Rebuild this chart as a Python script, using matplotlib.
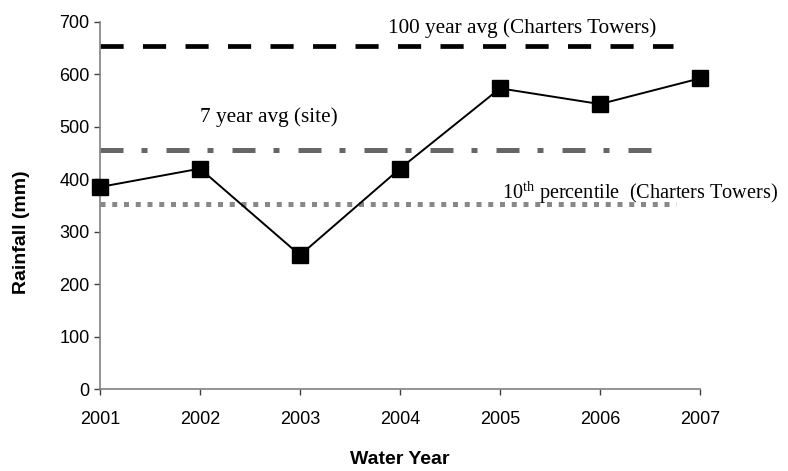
import matplotlib.pyplot as plt

# annual rainfall by water year
years = [2001, 2002, 2003, 2004, 2005, 2006, 2007]
rainfall = [385, 420, 255, 420, 573, 543, 592]

# reference levels
avg_100yr = 653
avg_7yr = 455
pct_10th = 352

W, H = 788, 471
fig = plt.figure(figsize=(W / 100, H / 100), dpi=100)
ax = fig.add_axes([100 / W, 82 / H, 600 / W, 367.3 / H])

ax.plot([2001, 2006.73], [avg_100yr, avg_100yr], color='black', lw=3.4,
        dashes=(4.9, 4.1), dash_capstyle='butt')
ax.plot([2001, 2006.65], [avg_7yr, avg_7yr], color='#666666', lw=3.6,
        dashes=(4.6, 3.6, 1.2, 3.8), dash_capstyle='butt')
ax.plot([2001, 2006.76], [pct_10th, pct_10th], color='#888888', lw=3.6,
        dashes=(1.0, 1.35), dash_capstyle='butt')

ax.plot(years, rainfall, color='black', lw=1.4, marker='s', markersize=12,
        clip_on=False, zorder=5)

serif = 'Liberation Serif'
ax.text(2003.88, 678, '100 year avg (Charters Towers)', family=serif,
        fontsize=15.3, va='baseline')
ax.text(2002.0, 509, '7 year avg (site)', family=serif, fontsize=15.3,
        va='baseline')
ax.text(2005.02, 362, '10$^{\\mathregular{th}}$ percentile  (Charters Towers)',
        family=serif, fontsize=14.6, va='baseline', zorder=6)

ax.set_xlim(2001, 2007)
ax.set_ylim(0, 700)
ax.set_xticks(years)
ax.set_yticks(range(0, 701, 100))

for side in ['top', 'right']:
    ax.spines[side].set_visible(False)
for side in ['left', 'bottom']:
    ax.spines[side].set_color('#808080')
    ax.spines[side].set_linewidth(1.2)
ax.tick_params(length=4, width=1, color='#404040', labelsize=13,
               labelfontfamily='Liberation Sans')
ax.tick_params(axis='x', pad=12)

fig.text(400 / W, 1 - 460 / H, 'Water Year', family='Liberation Sans',
         fontsize=14, fontweight='bold', ha='center', va='center')
fig.text(22 / W, 1 - 232 / H, 'Rainfall (mm)', family='Liberation Sans',
         fontsize=14, fontweight='bold', ha='center', va='center',
         rotation=90)

fig.savefig('out.png', dpi=100)
